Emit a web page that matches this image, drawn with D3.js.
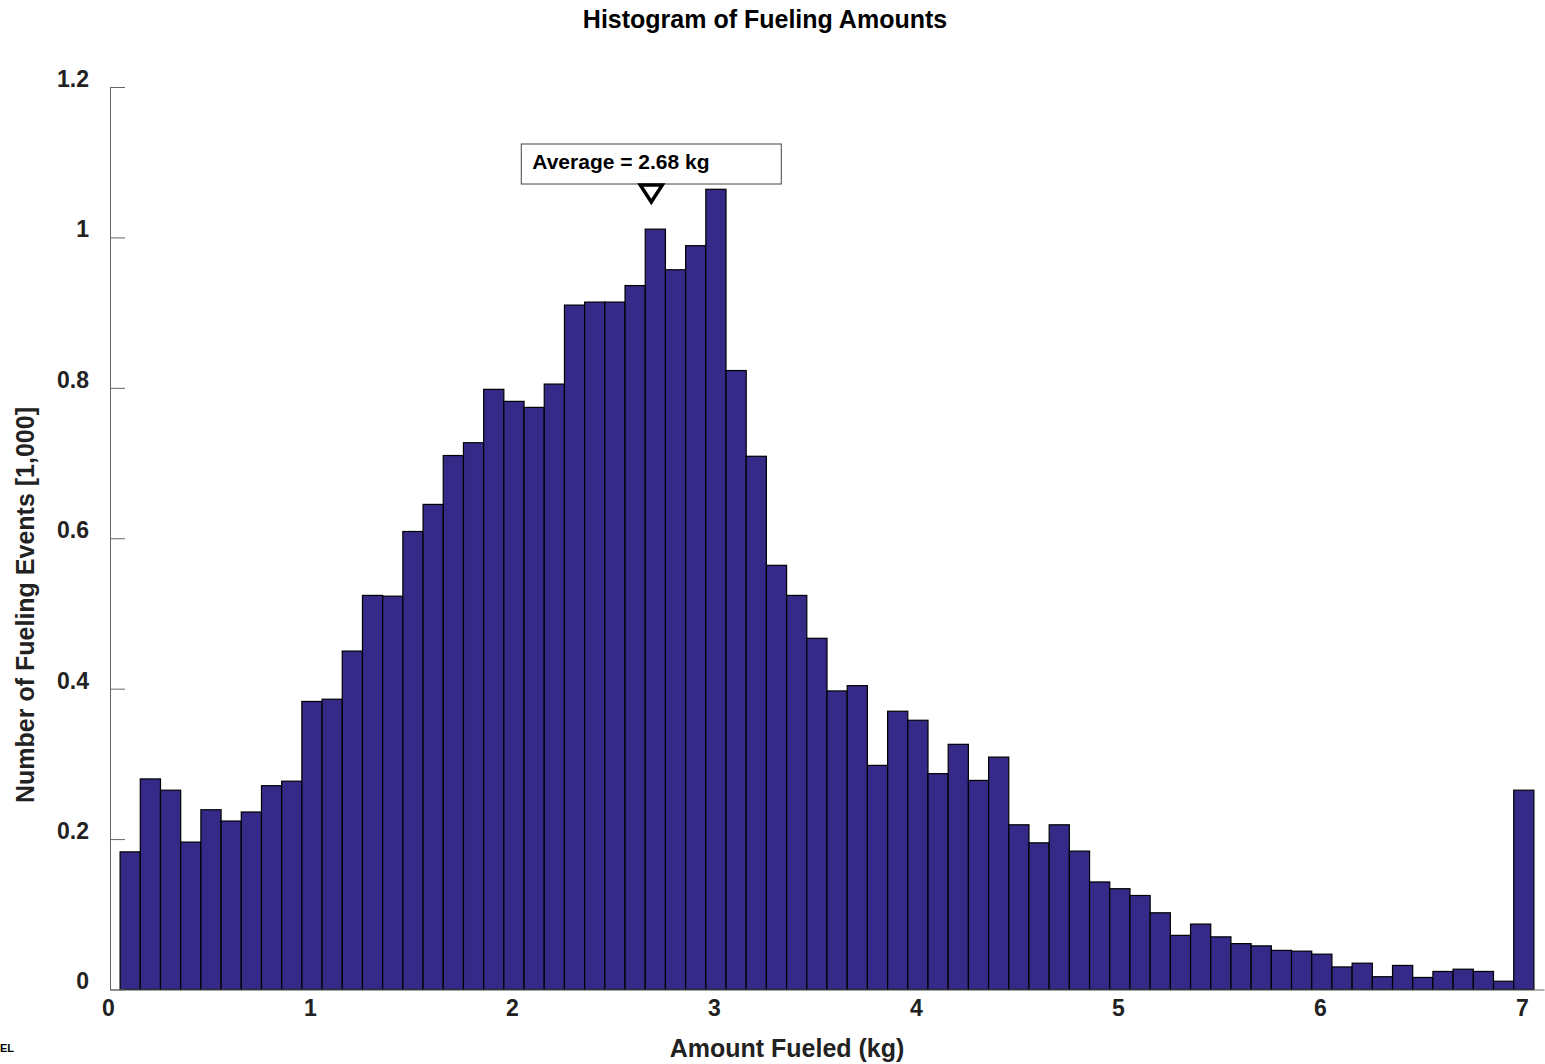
<!DOCTYPE html>
<html lang="en">
<head>
<meta charset="utf-8">
<title>Histogram of Fueling Amounts</title>
<script src="https://d3js.org/d3.v7.min.js"></script>
<style>
  body { margin: 0; background: #fff; }
  svg text { font-family: "Liberation Sans", Arial, sans-serif; font-weight: bold; }
</style>
</head>
<body>
<div id="chart"></div>
<script>
// bin centres (kg) and counts in thousands
var binCenters = [0.1,0.2,0.3,0.4,0.5,0.6,0.7,0.8,0.9,1.0,
                  1.1,1.2,1.3,1.4,1.5,1.6,1.7,1.8,1.9,2.0,
                  2.1,2.2,2.3,2.4,2.5,2.6,2.7,2.8,2.9,3.0,
                  3.1,3.2,3.3,3.4,3.5,3.6,3.7,3.8,3.9,4.0,
                  4.1,4.2,4.3,4.4,4.5,4.6,4.7,4.8,4.9,5.0,
                  5.1,5.2,5.3,5.4,5.5,5.6,5.7,5.8,5.9,6.0,
                  6.1,6.2,6.3,6.4,6.5,6.6,6.7,6.8,6.9,7.0];
var counts = [0.183,0.280,0.265,0.196,0.239,0.224,0.236,0.271,0.277,0.383,
              0.386,0.450,0.524,0.523,0.609,0.645,0.710,0.727,0.798,0.782,
              0.774,0.805,0.910,0.914,0.914,0.936,1.011,0.957,0.989,1.064,
              0.823,0.709,0.564,0.524,0.467,0.397,0.404,0.298,0.370,0.358,
              0.287,0.326,0.278,0.309,0.219,0.195,0.219,0.184,0.143,0.134,
              0.125,0.102,0.072,0.087,0.070,0.061,0.058,0.052,0.051,0.047,
              0.030,0.035,0.017,0.032,0.016,0.024,0.027,0.024,0.011,0.265];
var binWidth = 0.1;
var averageValue = 2.68;
var averageLabel = "Average = 2.68 kg";

var xTicks = [0,1,2,3,4,5,6,7];
var xTickLabels = ["0","1","2","3","4","5","6","7"];
var yTicks = [0,0.2,0.4,0.6,0.8,1,1.2];
var yTickLabels = ["0","0.2","0.4","0.6","0.8","1","1.2"];

var width = 1545, height = 1064;
var barFill = "#352a87";

var svg = d3.select("#chart").append("svg")
    .attr("width", width)
    .attr("height", height);

var x = d3.scaleLinear().domain([0, 7.1]).range([110, 1544]);
var y = d3.scaleLinear().domain([0, 1.2]).range([989.5, 87]);

// bars
svg.append("g").selectAll("rect")
    .data(binCenters)
  .enter().append("rect")
    .attr("x", function(d) { return x(d - binWidth / 2); })
    .attr("width", function(d) { return x(d + binWidth / 2) - x(d - binWidth / 2); })
    .attr("y", function(d, i) { return y(counts[i]); })
    .attr("height", function(d, i) { return y(0) - y(counts[i]); })
    .attr("fill", barFill)
    .attr("stroke", "#000")
    .attr("stroke-width", 1.2);

// y axis, ticks point inward
var yAxis = svg.append("g")
    .attr("transform", "translate(" + x(0) + ",0)")
    .call(d3.axisLeft(y).tickValues(yTicks).tickSize(-15).tickSizeOuter(0).tickPadding(21)
      .tickFormat(function(d, i) { return yTickLabels[i]; }));
yAxis.select(".domain").attr("stroke", "#666");
yAxis.selectAll(".tick line").attr("stroke", "#666");
yAxis.selectAll(".tick text")
    .attr("font-size", 23).attr("fill", "#222").attr("y", -8);

// x axis, no tick marks
var xAxis = svg.append("g")
    .attr("transform", "translate(0," + y(0) + ")")
    .call(d3.axisBottom(x).tickValues(xTicks).tickSize(0).tickSizeOuter(0).tickPadding(10)
      .tickFormat(function(d, i) { return xTickLabels[i]; }));
xAxis.select(".domain").attr("stroke", "#666");
xAxis.selectAll(".tick text")
    .attr("font-size", 23).attr("fill", "#222").attr("x", -2);

// title and axis labels
svg.append("text")
    .attr("x", 765).attr("y", 28)
    .attr("text-anchor", "middle")
    .attr("font-size", 25).attr("fill", "#000")
    .text("Histogram of Fueling Amounts");

svg.append("text")
    .attr("x", 787).attr("y", 1057)
    .attr("text-anchor", "middle")
    .attr("font-size", 25).attr("fill", "#222")
    .text("Amount Fueled (kg)");

svg.append("text")
    .attr("transform", "translate(34,605) rotate(-90)")
    .attr("text-anchor", "middle")
    .attr("font-size", 25).attr("fill", "#222")
    .text("Number of Fueling Events [1,000]");

svg.append("text")
    .attr("x", 0).attr("y", 1052)
    .attr("font-size", 11).attr("fill", "#000")
    .text("EL");

// average marker
var ax = x(averageValue);
svg.append("rect")
    .attr("x", ax - 130).attr("y", 144)
    .attr("width", 260).attr("height", 40)
    .attr("fill", "#fff").attr("stroke", "#444").attr("stroke-width", 1);
svg.append("text")
    .attr("x", ax - 119).attr("y", 169)
    .attr("font-size", 21).attr("fill", "#000")
    .text(averageLabel);
svg.append("path")
    .attr("d", "M" + (ax - 11) + ",185 L" + (ax + 11) + ",185 L" + ax + ",202 Z")
    .attr("fill", "#fff").attr("stroke", "#000").attr("stroke-width", 3.5)
    .attr("stroke-linejoin", "miter");
</script>
</body>
</html>
